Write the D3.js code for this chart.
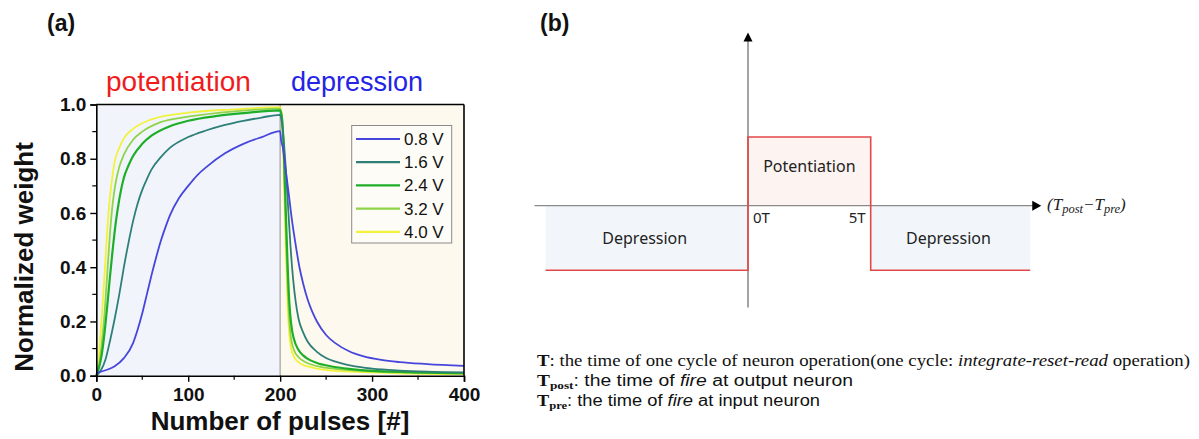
<!DOCTYPE html>
<html>
<head>
<meta charset="utf-8">
<script src="https://cdn.jsdelivr.net/npm/d3@7"></script>
<style>
  body { margin: 0; background: #fff; }
  svg { display: block; }
</style>
</head>
<body>
<svg width="1199" height="439"></svg>
<script>
// ---- data ----
var voltages = ["0.8 V", "1.6 V", "2.4 V", "3.2 V", "4.0 V"];
var colors = ["#4646dc", "#2e7f78", "#1fae2a", "#8fd448", "#f2f23c"];

// [pulse number, normalized weight]
var w08 = [[0,0.01],[10,0.02],[20,0.035],[30,0.065],[40,0.12],[45,0.17],[50,0.23],[55,0.3],[60,0.37],[65,0.435],[70,0.495],[75,0.545],[80,0.59],[90,0.655],[100,0.7],[110,0.74],[120,0.77],[140,0.82],[160,0.855],[180,0.88],[200,0.902],
  [201,0.87],[203,0.84],[206,0.76],[209,0.68],[213,0.57],[217,0.48],[221,0.4],[225,0.34],[230,0.28],[235,0.235],[240,0.2],[250,0.15],[260,0.12],[275,0.09],[290,0.072],[310,0.058],[330,0.05],[360,0.043],[400,0.036]];
var w16 = [[0,0],[5,0.02],[10,0.06],[15,0.13],[20,0.21],[25,0.3],[30,0.4],[35,0.49],[40,0.57],[45,0.635],[50,0.685],[55,0.725],[60,0.76],[70,0.805],[80,0.84],[100,0.88],[120,0.905],[140,0.925],[160,0.94],[180,0.952],[200,0.962],
  [202,0.93],[205,0.82],[208,0.66],[211,0.49],[214,0.36],[217,0.27],[220,0.21],[225,0.16],[230,0.125],[240,0.088],[250,0.065],[265,0.047],[280,0.035],[300,0.026],[330,0.019],[360,0.015],[400,0.012]];
var w24 = [[0,0],[3,0.03],[6,0.08],[9,0.16],[12,0.26],[15,0.37],[18,0.47],[21,0.56],[25,0.65],[30,0.73],[35,0.775],[40,0.81],[50,0.855],[60,0.885],[80,0.92],[100,0.94],[130,0.957],[160,0.968],[200,0.978],
  [202,0.95],[204,0.83],[206,0.62],[208,0.42],[210,0.27],[212,0.19],[215,0.135],[220,0.095],[225,0.075],[230,0.062],[240,0.047],[255,0.035],[275,0.025],[300,0.018],[340,0.013],[400,0.009]];
var w32 = [[0,0],[3,0.04],[6,0.12],[9,0.23],[12,0.38],[15,0.53],[18,0.64],[21,0.71],[25,0.77],[30,0.815],[40,0.87],[50,0.9],[70,0.935],[100,0.955],[150,0.975],[200,0.985],
  [202,0.95],[204,0.8],[206,0.55],[208,0.34],[210,0.2],[212,0.135],[215,0.095],[220,0.068],[225,0.055],[230,0.046],[240,0.035],[260,0.025],[290,0.017],[330,0.012],[400,0.008]];
var w40 = [[0,0],[2,0.04],[4,0.13],[6,0.22],[8,0.32],[10,0.43],[12,0.54],[14,0.63],[17,0.72],[20,0.79],[25,0.84],[30,0.875],[40,0.91],[60,0.945],[100,0.97],[150,0.982],[200,0.99],
  [202,0.95],[204,0.75],[206,0.48],[208,0.27],[210,0.15],[212,0.1],[215,0.07],[220,0.05],[225,0.04],[230,0.034],[240,0.026],[260,0.018],[290,0.013],[330,0.009],[400,0.006]];
var seriesData = [w08, w16, w24, w32, w40];

var xTicks = [0, 100, 200, 300, 400];
var yTicks = [0, 0.2, 0.4, 0.6, 0.8, 1.0];

// panel (b): time difference in units of T, level is the weight change sign
var stdpSegments = [
  {from: -8.25, to: 0, level: -0.94, label: "Depression", fill: "#f2f6fb"},
  {from: 0, to: 5, level: 1, label: "Potentiation", fill: "#fdf3f0"},
  {from: 5, to: 11.5, level: -0.94, label: "Depression", fill: "#f2f6fb"}
];
var stdpTicks = [{t: 0, label: "0T"}, {t: 5, label: "5T"}];

var noteSubs = ["post", "pre"];
var noteRests = [" at output neuron", " at input neuron"];

var svg = d3.select("svg");
var boldSans = "'Liberation Sans', Arial, sans-serif";

// ================= panel (a) =================
var x = d3.scaleLinear().domain([0, 400]).range([96.3, 464]);
var y = d3.scaleLinear().domain([0, 1]).range([375.7, 104.5]);

var gA = svg.append("g");

// background shading
gA.append("rect").attr("x", x(0)).attr("y", y(1)).attr("width", x(200) - x(0)).attr("height", y(0) - y(1)).attr("fill", "#f1f5fb");
gA.append("rect").attr("x", x(200)).attr("y", y(1)).attr("width", x(400) - x(200)).attr("height", y(0) - y(1)).attr("fill", "#fdf9ee");
gA.append("line").attr("x1", x(200)).attr("x2", x(200)).attr("y1", y(0)).attr("y2", y(1))
  .attr("stroke", "#b0b0b0").attr("stroke-width", 1.5);

var line = d3.line()
  .x(function(d){ return x(d[0]); })
  .y(function(d){ return y(d[1]); })
  .curve(d3.curveMonotoneX);

// draw light colours first so darker ones stay on top like in the figure
[4, 3, 2, 1, 0].forEach(function(i){
  gA.append("path")
    .datum(seriesData[i])
    .attr("d", line)
    .attr("fill", "none")
    .attr("stroke", colors[i])
    .attr("stroke-width", i == 2 ? 2.2 : 1.8);
});

// legend
var leg = gA.append("g");
leg.append("rect").attr("x", 351.7).attr("y", 125.5).attr("width", 100).attr("height", 117.5)
  .attr("fill", "#fefcf6").attr("stroke", "#8a8a8a").attr("stroke-width", 1);
voltages.forEach(function(v, i){
  var ly = 139 + i * 23.2;
  leg.append("line").attr("x1", 356).attr("x2", 400).attr("y1", ly).attr("y2", ly)
    .attr("stroke", colors[i]).attr("stroke-width", 2.2);
  leg.append("text").attr("x", 404).attr("y", ly + 6)
    .style("font-family", boldSans).style("font-size", "17px").attr("fill", "#111").text(v);
});

// axes
var xAxis = d3.axisBottom(x).tickValues(xTicks).tickFormat(d3.format("d")).tickSize(6).tickPadding(6);
var yAxis = d3.axisLeft(y).tickValues(yTicks).tickFormat(d3.format(".1f")).tickSize(6).tickPadding(4);

var gx = gA.append("g").attr("transform", "translate(0," + y(0) + ")").call(xAxis);
var gy = gA.append("g").attr("transform", "translate(" + x(0) + ",0)").call(yAxis);
[gx, gy].forEach(function(g){
  g.select(".domain").attr("stroke", "#000").attr("stroke-width", 1.6);
  g.selectAll(".tick line").attr("stroke", "#000").attr("stroke-width", 1.4);
  g.selectAll("text").style("font-family", boldSans).style("font-weight", "bold")
    .style("font-size", "19px").attr("fill", "#111");
});
// minor ticks
gA.append("g").selectAll("line").data([50, 150, 250, 350]).enter().append("line")
  .attr("x1", function(d){ return x(d); }).attr("x2", function(d){ return x(d); })
  .attr("y1", y(0)).attr("y2", y(0) + 4).attr("stroke", "#000").attr("stroke-width", 1.2);
gA.append("g").selectAll("line").data([0.1, 0.3, 0.5, 0.7, 0.9]).enter().append("line")
  .attr("x1", x(0)).attr("x2", x(0) - 4)
  .attr("y1", function(d){ return y(d); }).attr("y2", function(d){ return y(d); })
  .attr("stroke", "#000").attr("stroke-width", 1.2);

// top and right frame
gA.append("line").attr("x1", x(0)).attr("x2", x(400)).attr("y1", y(1)).attr("y2", y(1)).attr("stroke", "#000").attr("stroke-width", 1.6);
gA.append("line").attr("x1", x(400)).attr("x2", x(400)).attr("y1", y(1)).attr("y2", y(0)).attr("stroke", "#000").attr("stroke-width", 1.6);

// titles
gA.append("text").attr("x", 280).attr("y", 430).attr("text-anchor", "middle")
  .style("font-family", boldSans).style("font-weight", "bold").style("font-size", "26px").attr("fill", "#111")
  .text("Number of pulses [#]");
gA.append("text").attr("transform", "translate(33,257) rotate(-90)").attr("text-anchor", "middle")
  .style("font-family", boldSans).style("font-weight", "bold").style("font-size", "26px").attr("fill", "#111")
  .text("Normalized weight");
gA.append("text").attr("x", 106).attr("y", 90.5)
  .style("font-family", boldSans).style("font-size", "28px").attr("fill", "#ee1c1c").text("potentiation");
gA.append("text").attr("x", 291).attr("y", 90.5)
  .style("font-family", boldSans).style("font-size", "27px").attr("fill", "#2424e6").text("depression");
gA.append("text").attr("x", 47).attr("y", 31)
  .style("font-family", boldSans).style("font-weight", "bold").style("font-size", "23px").attr("fill", "#111").text("(a)");

// ================= panel (b) =================
var tx = d3.scaleLinear().domain([0, 5]).range([748, 870.7]);
var ty = d3.scaleLinear().domain([0, 1]).range([205.7, 137]);
var gB = svg.append("g");
var labelFont = "'Noto Sans', 'Open Sans', sans-serif";

gB.append("text").attr("x", 540).attr("y", 31)
  .style("font-family", boldSans).style("font-weight", "bold").style("font-size", "23px").attr("fill", "#111").text("(b)");

gB.selectAll("rect.seg").data(stdpSegments).enter().append("rect")
  .attr("class", "seg")
  .attr("x", function(d){ return tx(d.from); })
  .attr("width", function(d){ return tx(d.to) - tx(d.from); })
  .attr("y", function(d){ return Math.min(ty(0), ty(d.level)); })
  .attr("height", function(d){ return Math.abs(ty(d.level) - ty(0)); })
  .attr("fill", function(d){ return d.fill; });

// axes with arrows
var axisStroke = "#9a9a9a";
gB.append("line").attr("x1", tx(-8.7)).attr("x2", tx(11.8)).attr("y1", ty(0)).attr("y2", ty(0))
  .attr("stroke", "#8a8a8a").attr("stroke-width", 1.3);
gB.append("path").attr("d", "M" + tx(11.95) + "," + ty(0) + " l-9,-5 l0,10 z").attr("fill", "#000");
gB.append("line").attr("x1", tx(0)).attr("x2", tx(0)).attr("y1", ty(-1.48)).attr("y2", ty(2.4))
  .attr("stroke", axisStroke).attr("stroke-width", 1.8);
gB.append("path").attr("d", "M" + tx(0) + "," + ty(2.52) + " l-4.5,9 l9,0 z").attr("fill", "#000");

// red window function
var stepPts = [];
stdpSegments.forEach(function(d){
  stepPts.push([d.from, d.level]);
  stepPts.push([d.to, d.level]);
});
gB.append("path")
  .datum(stepPts)
  .attr("d", d3.line().x(function(d){ return tx(d[0]); }).y(function(d){ return ty(d[1]); }))
  .attr("fill", "none").attr("stroke", "#e34848").attr("stroke-width", 1.6);

gB.selectAll("text.seg").data(stdpSegments).enter().append("text")
  .attr("class", "seg")
  .attr("x", function(d){ return (tx(d.from) + tx(d.to)) / 2 + (d.level > 0 ? 0 : -2); })
  .attr("y", function(d){ return d.level > 0 ? 172 : 244; })
  .attr("text-anchor", "middle")
  .style("font-family", labelFont).style("font-size", "16px").attr("fill", "#222")
  .text(function(d){ return d.label; });

gB.selectAll("text.tk").data(stdpTicks).enter().append("text")
  .attr("class", "tk")
  .attr("x", function(d){ return d.t == 0 ? tx(d.t) + 5 : tx(d.t) - 22; })
  .attr("y", 222.5)
  .style("font-family", labelFont).style("font-size", "15px").attr("fill", "#222")
  .text(function(d){ return d.label; });

var serif = "'Liberation Serif', 'DejaVu Serif', serif";
var axLab = gB.append("text").attr("x", 1047).attr("y", 210)
  .style("font-family", serif).style("font-style", "italic").style("font-size", "17px").attr("fill", "#222");
axLab.append("tspan").text("(T");
axLab.append("tspan").attr("dy", 3).style("font-size", "12.5px").text("post");
axLab.append("tspan").attr("dy", -3).text("\u2212T");
axLab.append("tspan").attr("dy", 3).style("font-size", "12.5px").text("pre");
axLab.append("tspan").attr("dy", -3).text(")");

// footnotes
var l1 = gB.append("text").attr("x", 537).attr("y", 365.5)
  .attr("textLength", 653).attr("lengthAdjust", "spacingAndGlyphs")
  .style("font-family", serif).style("font-size", "16.5px").attr("fill", "#111");
l1.append("tspan").style("font-weight", "bold").text("T");
l1.append("tspan").text(": the time of one cycle of neuron operation(one cycle: ");
l1.append("tspan").style("font-style", "italic").text("integrate-reset-read");
l1.append("tspan").text(" operation)");

var noteY = [385.5, 405.5];
var noteLen = [316, 283];
var sansFoot = "'Liberation Sans', Arial, sans-serif";
noteSubs.forEach(function(sub, i){
  var t = gB.append("text").attr("x", 537).attr("y", noteY[i]).attr("fill", "#111")
    .attr("textLength", noteLen[i]).attr("lengthAdjust", "spacingAndGlyphs");
  t.append("tspan").style("font-family", serif).style("font-weight", "bold").style("font-size", "16px").text("T");
  t.append("tspan").attr("dy", 3).style("font-family", serif).style("font-weight", "bold").style("font-size", "11px").text(sub);
  t.append("tspan").attr("dy", -3).style("font-family", sansFoot).style("font-size", "16px").text(": the time of ");
  t.append("tspan").style("font-family", sansFoot).style("font-style", "italic").style("font-size", "16px").text("fire");
  t.append("tspan").style("font-family", sansFoot).style("font-size", "16px").text(noteRests[i]);
});
</script>
</body>
</html>
